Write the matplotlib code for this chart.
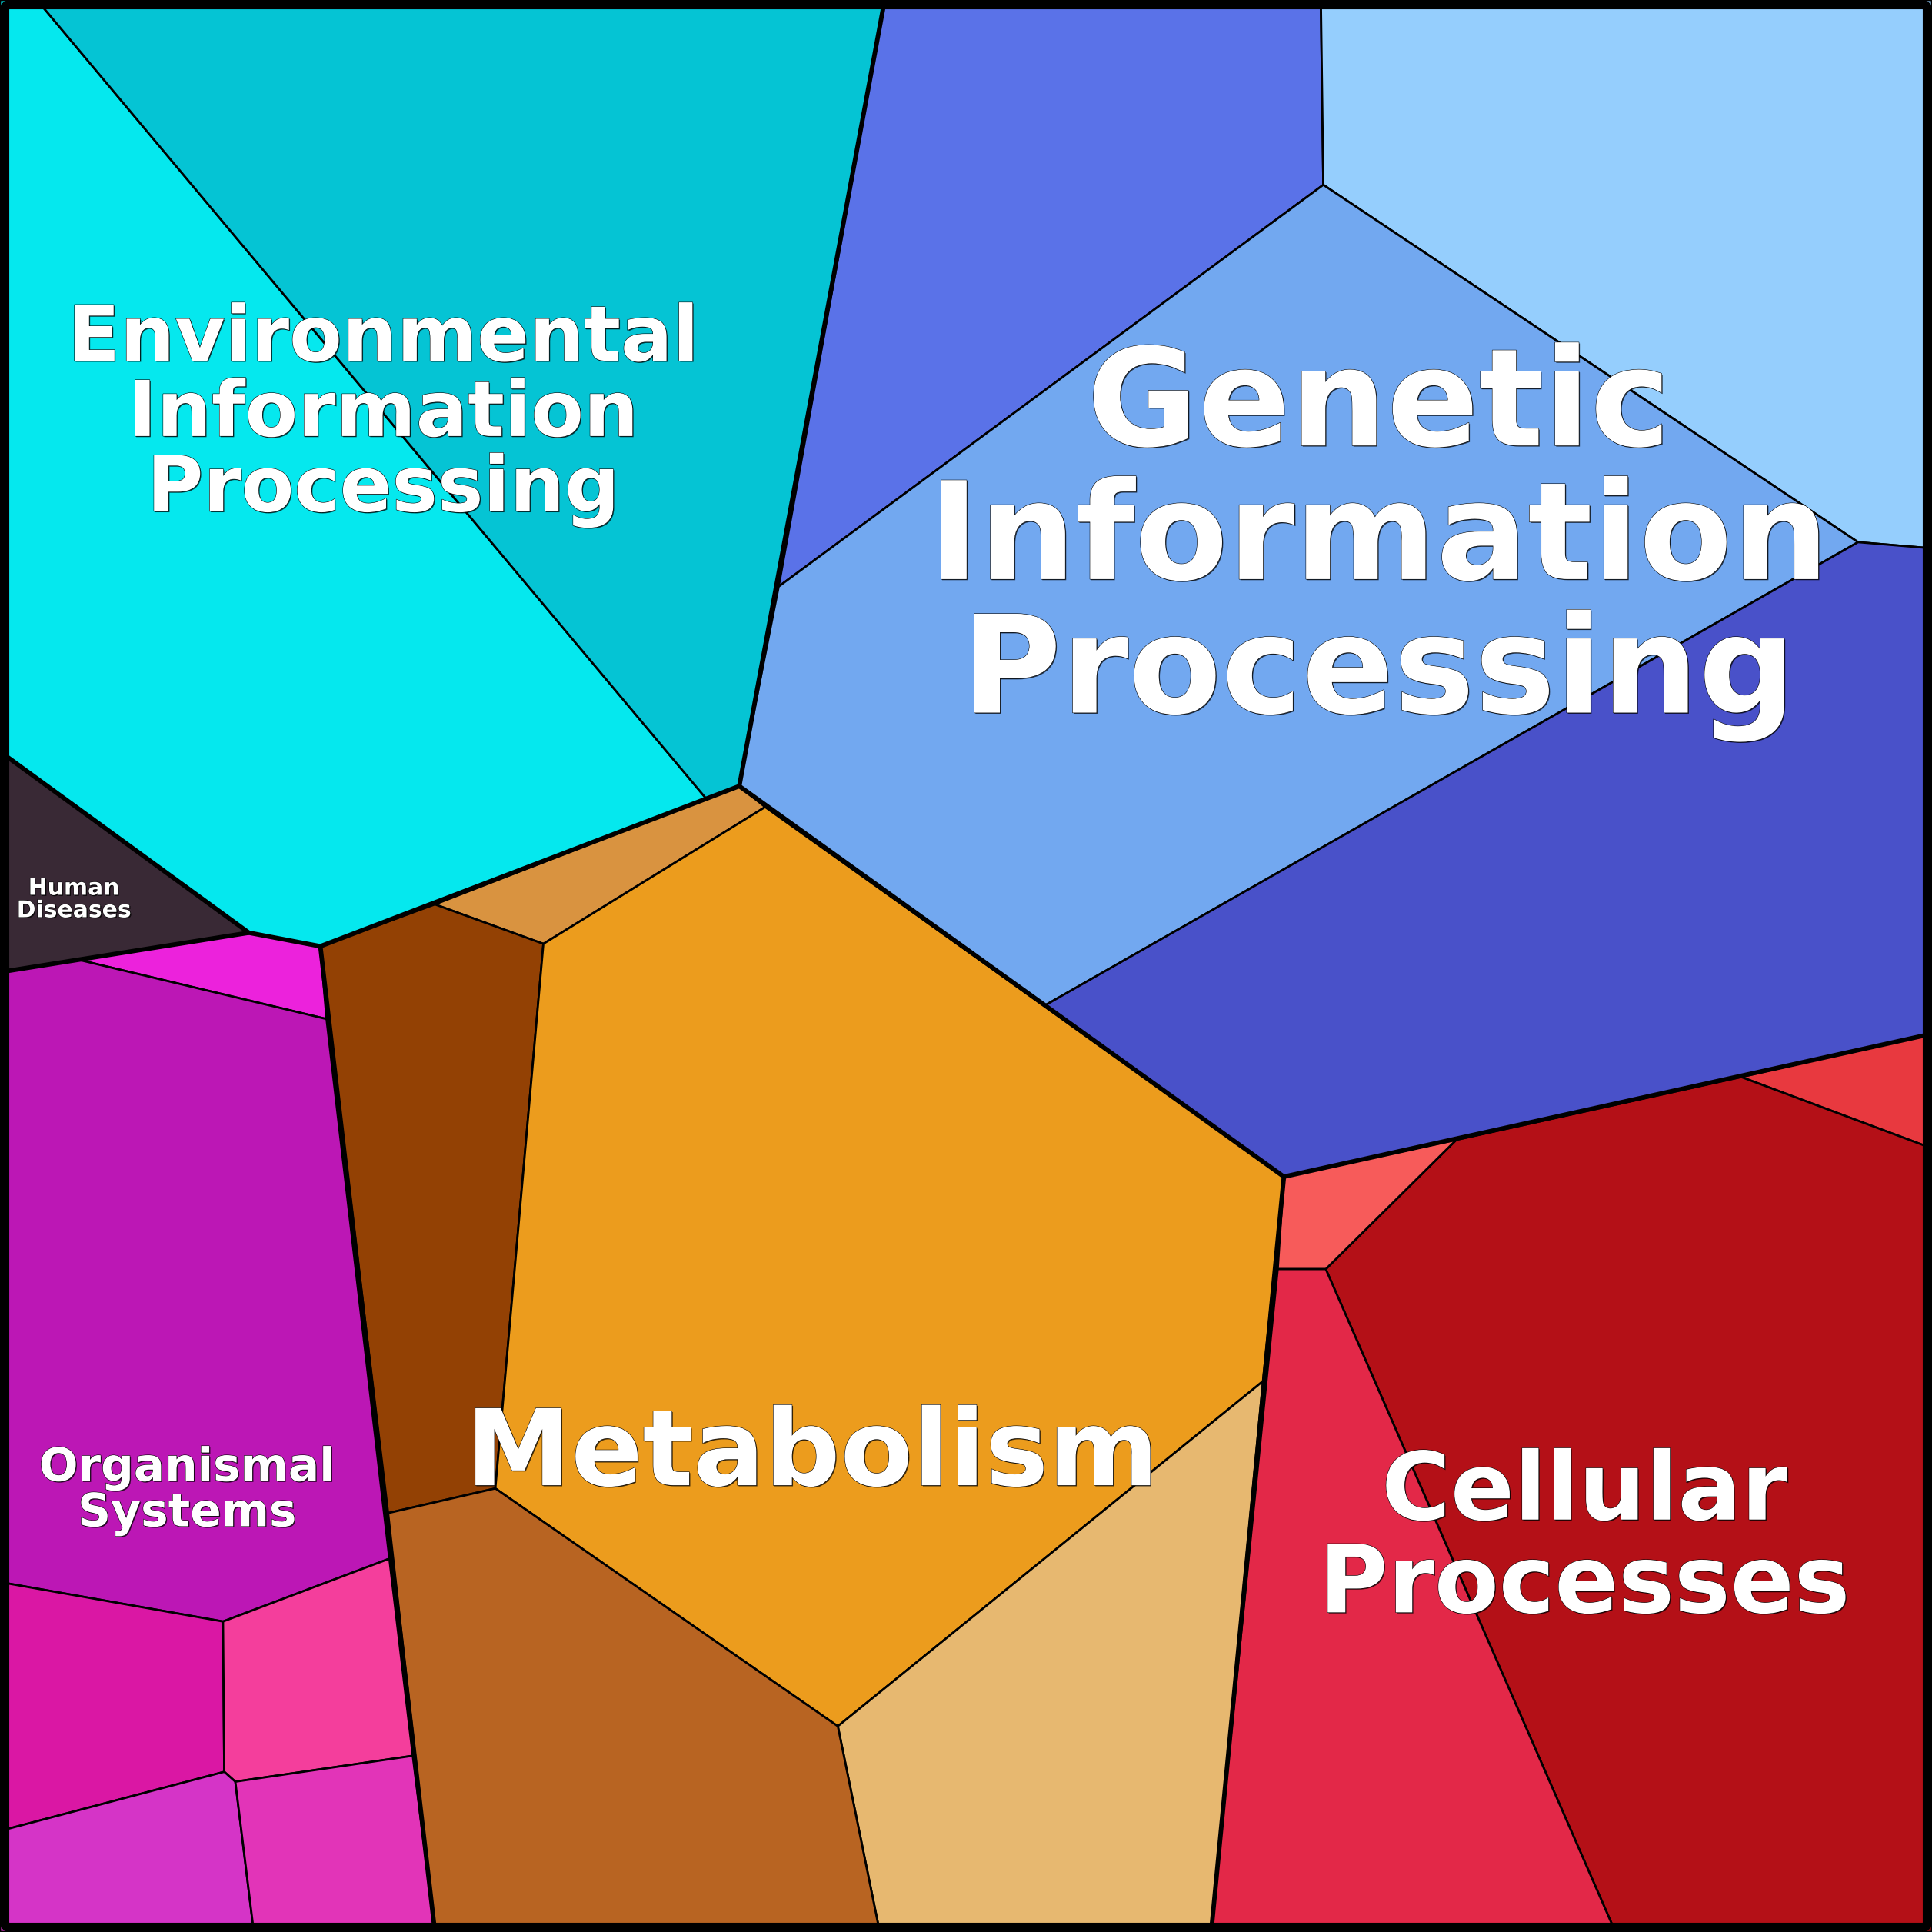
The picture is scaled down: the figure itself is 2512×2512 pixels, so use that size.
import matplotlib as mpl
mpl.use('agg')
import matplotlib.pyplot as plt
from matplotlib.patches import Polygon, FancyBboxPatch
import matplotlib.patheffects as pe

# Voronoi treemap cells, vertices (1568 x 1568 frame, y down)
env_cells = [
    ([(0, 0), (30, 0), (573, 648), (260, 768), (202, 757), (0, 610)], '#05E8EE'),
    ([(30, 0), (718, 0), (600, 638), (573, 648)], '#05C4D4'),
]
gen_cells = [
    ([(718, 0), (1072, 0), (1074, 150), (632, 476)], '#5A72E8'),
    ([(1072, 0), (1568, 0), (1568, 445), (1508, 440), (1074, 150)], '#95CEFD'),
    ([(1074, 150), (1508, 440), (848, 816), (600, 638), (632, 476)], '#72A8F0'),
    ([(1508, 440), (1568, 445), (1568, 840), (1042, 955), (848, 816)], '#4951C9'),
]
cell_cells = [
    ([(1413, 874), (1568, 839), (1568, 932)], '#E8393F'),
    ([(1182, 925), (1413, 874), (1568, 932), (1568, 1568), (1311, 1568), (1076, 1030)], '#B41017'),
    ([(1042, 955), (1182, 925), (1076, 1030), (1037, 1030)], '#F75B5A'),
    ([(1037, 1030), (1076, 1030), (1311, 1568), (983, 1568)], '#E32848'),
]
met_cells = [
    ([(353, 734), (600, 638), (621, 655), (441, 766)], '#D99340'),
    ([(260, 768), (353, 734), (441, 766), (402, 1208), (315, 1228)], '#934104'),
    ([(441, 766), (621, 655), (1042, 955), (1025, 1121), (680, 1401), (402, 1208)], '#EC9C1D'),
    ([(1025, 1121), (983, 1568), (714, 1568), (680, 1401)], '#E7B870'),
    ([(315, 1228), (402, 1208), (680, 1401), (714, 1568), (353, 1568)], '#B86422'),
]
org_cells = [
    ([(64, 779), (202, 757), (260, 768), (265, 827)], '#EC22DC'),
    ([(0, 789), (64, 779), (265, 827), (316, 1265), (181, 1316), (0, 1284)], '#BC17B5'),
    ([(0, 1284), (181, 1316), (182, 1438), (0, 1486)], '#DA17A4'),
    ([(181, 1316), (316, 1265), (335, 1425), (191, 1446), (182, 1438)], '#F43E9C'),
    ([(0, 1486), (182, 1438), (191, 1446), (206, 1568), (0, 1568)], '#D534C7'),
    ([(191, 1446), (335, 1425), (353, 1568), (206, 1568)], '#E234B8'),
]
hum_cells = [
    ([(0, 610), (202, 757), (0, 789)], '#392935'),
]

# top-level outlines
top_outlines = [
    [(718, 0), (600, 638), (260, 768), (202, 757), (0, 610)],
    [(600, 638), (1042, 955), (1568, 839)],
    [(1042, 955), (983, 1568)],
    [(260, 768), (353, 1568)],
    [(202, 757), (0, 789)],
]

labels = ['Environmental\nInformation\nProcessing', 'Genetic\nInformation\nProcessing',
          'Metabolism', 'Cellular\nProcesses', 'Organismal\nSystems', 'Human\nDiseases']
label_pos = [(311, 337), (1119, 440), (659, 1182), (1286, 1250), (152, 1210), (60, 730)]
label_size = [72, 127, 99, 88, 43, 21.5]
label_spacing = [1.01, 1.02, 1.0, 1.04, 1.0, 1.0]

fig = plt.figure(figsize=(25.12, 25.12), dpi=100)
ax = fig.add_axes([0, 0, 1, 1])
ax.set_xlim(0, 1568)
ax.set_ylim(1568, 0)
ax.axis('off')

for group in [env_cells, gen_cells, cell_cells, met_cells, org_cells, hum_cells]:
    for verts, color in group:
        ax.add_patch(Polygon(verts, closed=True, facecolor=color, edgecolor='black',
                             linewidth=2.0, joinstyle='miter'))

for line in top_outlines:
    xs = [p[0] for p in line]
    ys = [p[1] for p in line]
    ax.plot(xs, ys, color='black', linewidth=4.2, solid_joinstyle='miter', solid_capstyle='butt')

# frame
ax.add_patch(FancyBboxPatch((3.8, 3.8), 1568 - 7.6, 1568 - 7.6,
                            boxstyle='round,pad=0,rounding_size=4', facecolor='none',
                            edgecolor='black', linewidth=8.6))

for txt, (x, y), fs, ls in zip(labels, label_pos, label_size, label_spacing):
    ax.text(x, y, txt, ha='center', va='center', fontsize=fs, fontweight='bold',
            color='white', linespacing=ls, family='DejaVu Sans',
            path_effects=[pe.SimplePatchShadow(offset=(1.0, -1.0), shadow_rgbFace='black', alpha=0.7),
                          pe.withStroke(linewidth=0.8, foreground='black')])

fig.savefig('out.png', dpi=100)
